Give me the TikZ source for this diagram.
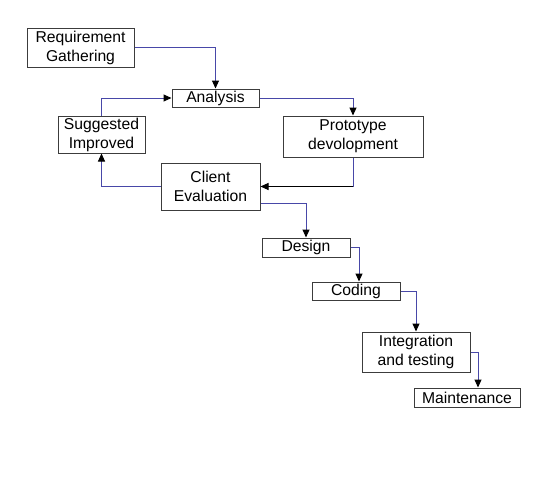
\documentclass[tikz,border=0pt]{standalone}
\usepackage{fontspec}
\setmainfont{Liberation Sans}
\usetikzlibrary{arrows.meta}
\definecolor{flowline}{RGB}{72,72,168}
\definecolor{boxline}{RGB}{60,60,60}
\begin{document}
\begin{tikzpicture}[x=1pt,y=-1pt,
  stage/.style={draw=boxline, line width=1pt, fill=white, inner sep=0pt,
    align=center, font=\fontsize{15.7}{19}\selectfont},
  conn/.style={draw=flowline, line width=1pt,
    -{Triangle[length=8pt,width=7pt,color=black]}},
  plain/.style={draw=flowline, line width=1pt}]
\useasboundingbox (0,0) rectangle (537,498);
\fill[white] (0,0) rectangle (537,498);

% process stages
\node[stage, minimum width=107pt, minimum height=39pt] (req) at (80.5,47.5) {Requirement\\Gathering};
\node[stage, minimum width=87pt, minimum height=18pt] (ana) at (215.5,98) {Analysis};
\node[stage, minimum width=87pt, minimum height=37pt] (sug) at (101.5,134.5) {Suggested\\Improved};
\node[stage, minimum width=140pt, minimum height=41pt] (pro) at (353,136.5) {Prototype\\devolopment};
\node[stage, minimum width=99pt, minimum height=47pt] (cli) at (210.5,186.5) {Client\\Evaluation};
\node[stage, minimum width=88pt, minimum height=19pt] (des) at (306,247.5) {Design};
\node[stage, minimum width=88pt, minimum height=18pt] (cod) at (356,291) {Coding};
\node[stage, minimum width=108pt, minimum height=40pt] (int) at (416,352) {Integration\\and testing};
\node[stage, minimum width=106pt, minimum height=19pt] (mai) at (467,397.5) {Maintenance};

% prototyping loop
\draw[conn] (req.east) -| (ana.north);
\draw[conn] (ana.east) -| (pro.north);
\coordinate (probend) at (pro.south |- cli.east);
\draw[plain] (pro.south) -- (probend);
\draw[conn, draw=black] (probend) -- (cli.east);
\draw[conn] (cli.west) -| (sug.south);
\draw[conn] (sug.north) |- (ana.west);

% development cascade
\draw[conn] ([yshift=7pt]cli.south east) -| (des.north);
\draw[conn] (des.east) -| ([xshift=3pt]cod.north);
\draw[conn] (cod.east) -| (int.north);
\draw[conn] (int.east) -| ([xshift=11pt]mai.north);
\end{tikzpicture}
\end{document}
